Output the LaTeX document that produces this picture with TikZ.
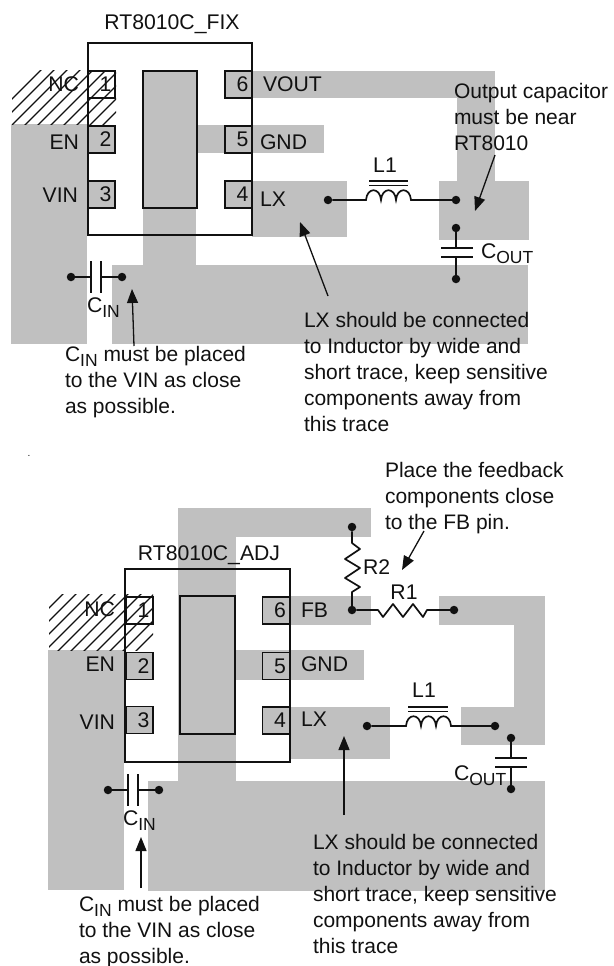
\documentclass[tikz,border=0pt]{standalone}
\usepackage{fontspec}
\setmainfont{Liberation Sans}
\usetikzlibrary{arrows.meta}
\definecolor{trace}{HTML}{C0C0C0}
\definecolor{ink}{HTML}{111111}
\newcommand{\subtxt}[1]{\raisebox{-0.28em}{\fontsize{17.5}{18}\selectfont #1}}
\tikzset{
  x=1pt,y=-1pt,
  every node/.style={inner sep=0pt,outer sep=0pt,text=ink},
  chipbox/.style={draw=ink,line width=1.5pt,minimum width=#1,anchor=north west},
  pinbox/.style={draw=ink,line width=1.5pt,minimum width=27pt,minimum height=27pt,anchor=north west,font=\fontsize{21.2}{24}\selectfont,execute at begin node={\hspace*{8pt}}},
  padbox/.style={draw=ink,line width=1.5pt,fill=trace,anchor=north west},
  lbl/.style={font=\fontsize{21.2}{26}\selectfont,anchor=base west},
  lblr/.style={font=\fontsize{21.2}{26}\selectfont,anchor=base east},
  lblc/.style={font=\fontsize{21.2}{26}\selectfont,anchor=base},
  note/.style={font=\fontsize{21}{26}\selectfont,align=left,anchor=base west},
  dot/.style={circle,fill=ink,minimum size=8.5pt},
  wire/.style={draw=ink,line width=1.7pt},
  plate/.style={draw=ink,line width=1.9pt},
  hatch/.style={draw=ink,line width=1.1pt},
  callout/.style={draw=ink,line width=1.3pt,-{Triangle[length=14pt,width=11pt]}},
}
\begin{document}
\begin{tikzpicture}
\useasboundingbox (0,0) rectangle (613,966);
% ---------- top: traces
\fill[trace] (11,124) rectangle (87,344);
\fill[trace] (143,208) rectangle (196,265);
\fill[trace] (112,265) rectangle (528,344);
\fill[trace] (252,71) rectangle (495,98);
\fill[trace] (457,71) rectangle (495,181);
\fill[trace] (439,181) rectangle (529,240);
\fill[trace] (197,125) rectangle (324,153);
\fill[trace] (252,181) rectangle (347,237);
% ---------- bottom: traces
\fill[trace] (48,650) rectangle (124,890);
\fill[trace] (178,508) rectangle (236,781);
\fill[trace] (178,508) rectangle (371,537);
\fill[trace] (148,781) rectangle (545,891);
\fill[trace] (290,596) rectangle (371,625);
\fill[trace] (439,596) rectangle (545,625);
\fill[trace] (514,596) rectangle (545,745);
\fill[trace] (461,707) rectangle (545,745);
\fill[trace] (236,650) rectangle (364,680);
\fill[trace] (290,707) rectangle (390,759);
% ---------- hatching
\begin{scope}
\clip (12,71) rectangle (116,124);
\foreach \s in {111,124,...,228}{\draw[hatch] (\s-130,130) -- (\s,0);}
\end{scope}
\begin{scope}
\clip (49,594) rectangle (153,650);
\foreach \s in {657,670,...,790}{\draw[hatch] (\s-660,660) -- (\s-100,100);}
\end{scope}
% ---------- top: chip
\node[chipbox=164pt,minimum height=192pt] (chipA) at (88,43) {};
\node[pinbox] (a1) at (88,71) {1};
\node[pinbox,fill=trace] (a2) at (88,126) {2};
\node[pinbox,fill=trace] (a3) at (88,181) {3};
\node[pinbox,fill=trace] (a6) at (225,71) {6};
\node[pinbox,fill=trace] (a5) at (225,126) {5};
\node[pinbox,fill=trace] (a4) at (225,181) {4};
\node[padbox,minimum width=54pt,minimum height=137pt] (padA) at (143,71) {};
\node[lblc] (titleA) at (172,30) {RT8010C\_FIX};
\node[lblr] (ncA) at (79,92) {NC};
\node[lblr] (enA) at (79,149) {EN};
\node[lblr] (vinA) at (78,202) {VIN};
\node[lbl] (voutA) at (263,92) {VOUT};
\node[lbl] (gndA) at (260,149) {GND};
\node[lbl] (lxA) at (260,206) {LX};
% top: inductor
\node[dot] (l1a) at (328,200) {};
\node[dot] (l1b) at (456,200) {};
\coordinate (l1c) at (366,200);
\coordinate (l1d) at (411,200);
\draw[wire] (l1a) -- (l1c) .. controls +(1,-13) and +(-1,-13) .. ++(15,0) .. controls +(1,-13) and +(-1,-13) .. ++(15,0) .. controls +(1,-13) and +(-1,-13) .. (l1d) -- (l1b);
\draw[plate] (369,181) -- (408,181);
\draw[plate] (369,185.5) -- (408,185.5);
\node[lblc] (l1lblA) at (385,172) {L1};
% top: output capacitor
\node[dot] (coa) at (456,228) {};
\node[dot] (cob) at (456,279) {};
\coordinate (coc) at (456,248);
\coordinate (cod) at (456,257);
\draw[wire] (coa) -- (coc);
\draw[wire] (cod) -- (cob);
\draw[plate] (441,248) -- (473,248);
\draw[plate] (441,257) -- (473,257);
\node[lbl] (coutA) at (481,258) {C\subtxt{OUT}};
% top: input capacitor
\node[dot] (cia) at (71,277) {};
\node[dot] (cib) at (122,277) {};
\coordinate (cic) at (91,277);
\coordinate (cid) at (101,277);
\draw[wire] (cia) -- (cic);
\draw[wire] (cid) -- (cib);
\draw[plate] (91,261) -- (91,293);
\draw[plate] (101,261) -- (101,293);
\node[lbl] (cinA) at (87,312) {C\subtxt{IN}};
% top: notes
\node[note] (noteOut) at (454,150) {Output capacitor\\must be near\\RT8010};
\node[note] (noteCinA) at (65,413) {C\subtxt{IN} must be placed\\to the VIN as close\\as possible.};
\node[note] (noteLxA) at (304,431) {LX should be connected\\to Inductor by wide and\\short trace, keep sensitive\\components away from\\this trace};
\coordinate (outS) at (495,155);
\coordinate (outT) at (475,211);
\draw[callout] (outS) -- (outT);
\coordinate (lxS) at (328,296);
\coordinate (lxT) at (300,222);
\draw[callout] (lxS) -- (lxT);
\coordinate (cinS) at (134,346);
\coordinate (cinT) at (132,289);
\draw[callout] (cinS) -- (cinT);
% stray full stop
\node[lbl,font=\fontsize{10}{12}\selectfont] (stray) at (27.5,456) {.};
% ---------- bottom: chip
\node[chipbox=165pt,minimum height=193pt] (chipB) at (125,569) {};
\node[pinbox] (b1) at (126,597) {1};
\node[pinbox,fill=trace] (b2) at (126,652.5) {2};
\node[pinbox,fill=trace] (b3) at (126,706.5) {3};
\node[pinbox,fill=trace] (b6) at (262.5,597) {6};
\node[pinbox,fill=trace] (b5) at (262.5,652.5) {5};
\node[pinbox,fill=trace] (b4) at (262.5,707) {4};
\node[padbox,minimum width=55pt,minimum height=138pt] (padB) at (180,596) {};
\node[lblc] (titleB) at (209,560) {RT8010C\_ADJ};
\node[lblr] (ncB) at (115,616) {NC};
\node[lblr] (enB) at (115,671) {EN};
\node[lblr] (vinB) at (115,729) {VIN};
\node[lbl] (fbB) at (301,617) {FB};
\node[lbl] (gndB) at (301,671) {GND};
\node[lbl] (lxB) at (301,726) {LX};
% bottom: feedback resistors
\node[dot] (r2a) at (352,527) {};
\node[dot] (r2b) at (352,610) {};
\node[dot] (r1b) at (454,610) {};
\draw[wire,line join=round] (r2a) -- (352,543) -- (360,549) -- (345,559) -- (360,568) -- (345,578) -- (360,587) -- (352,592) -- (r2b);
\draw[wire,line join=round] (r2b) -- (378,610) -- (383,617) -- (393,604) -- (403,617) -- (413,604) -- (423,617) -- (427,610) -- (r1b);
\node[lbl] (r2lbl) at (363,574) {R2};
\node[lblc] (r1lbl) at (404,599) {R1};
% bottom: inductor
\node[dot] (l2a) at (367,726) {};
\node[dot] (l2b) at (495,726) {};
\coordinate (l2c) at (406,726);
\coordinate (l2d) at (451,726);
\draw[wire] (l2a) -- (l2c) .. controls +(1,-13) and +(-1,-13) .. ++(15,0) .. controls +(1,-13) and +(-1,-13) .. ++(15,0) .. controls +(1,-13) and +(-1,-13) .. (l2d) -- (l2b);
\draw[plate] (408,707) -- (448,707);
\draw[plate] (408,711.5) -- (448,711.5);
\node[lblc] (l1lblB) at (424,697) {L1};
% bottom: output capacitor
\node[dot] (cpa) at (511,738) {};
\node[dot] (cpb) at (511,789) {};
\coordinate (cpc) at (511,758);
\coordinate (cpd) at (511,767);
\draw[wire] (cpa) -- (cpc);
\draw[wire] (cpd) -- (cpb);
\draw[plate] (495,758) -- (527,758);
\draw[plate] (495,767) -- (527,767);
\node[lbl] (coutB) at (454,780) {C\subtxt{OUT}};
% bottom: input capacitor
\node[dot] (cja) at (108,790) {};
\node[dot] (cjb) at (159,790) {};
\coordinate (cjc) at (128,790);
\coordinate (cjd) at (138,790);
\draw[wire] (cja) -- (cjc);
\draw[wire] (cjd) -- (cjb);
\draw[plate] (128,774) -- (128,806);
\draw[plate] (138,774) -- (138,806);
\node[lbl] (cinB) at (123,825) {C\subtxt{IN}};
% bottom: notes
\node[note] (noteFb) at (385,529) {Place the feedback\\components close\\to the FB pin.};
\node[note] (noteCinB) at (79,963) {C\subtxt{IN} must be placed\\to the VIN as close\\as possible.};
\node[note] (noteLxB) at (313,953) {LX should be connected\\to Inductor by wide and\\short trace, keep sensitive\\components away from\\this trace};
\coordinate (fbS) at (424,531);
\coordinate (fbT) at (402,570);
\draw[callout] (fbS) -- (fbT);
\coordinate (lx2S) at (344,815);
\coordinate (lx2T) at (344,736);
\draw[callout] (lx2S) -- (lx2T);
\coordinate (cin2S) at (141,888);
\coordinate (cin2T) at (141,837);
\draw[callout] (cin2S) -- (cin2T);
\end{tikzpicture}
\end{document}
